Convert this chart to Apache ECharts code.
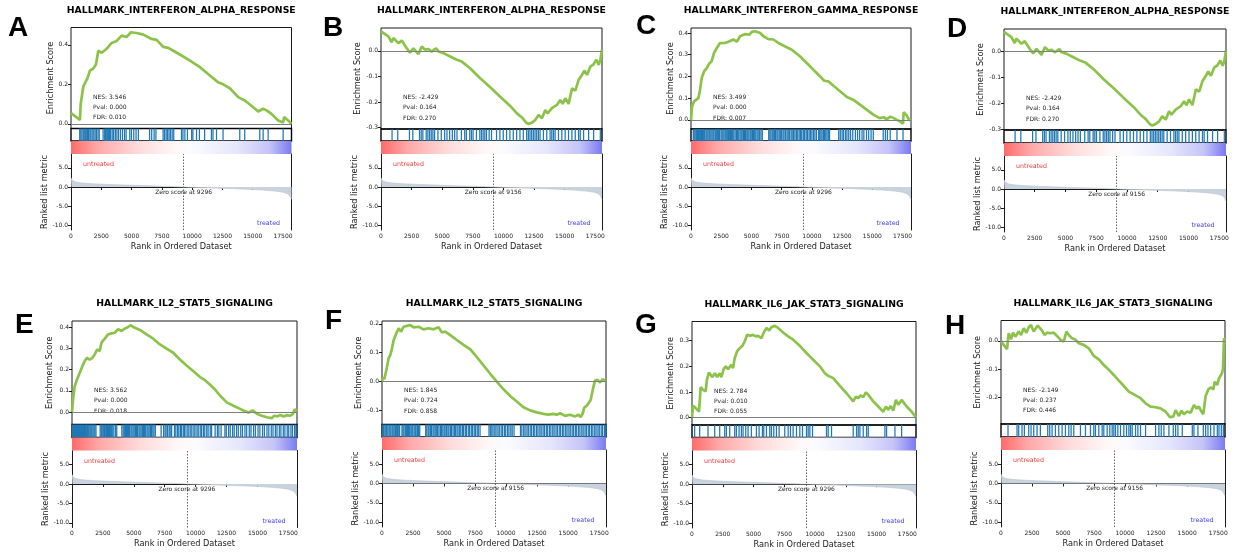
<!DOCTYPE html>
<html>
<head>
<meta charset="utf-8">
<script src="https://cdn.jsdelivr.net/npm/echarts@6/dist/echarts.min.js"></script>
<style>
  html, body { margin: 0; padding: 0; background: #ffffff; }
  #chart { width: 1237px; height: 552px; }
</style>
</head>
<body>
<div id="chart"></div>
<script>
// ---------- gene set titles ----------
const titleIfnAlpha = 'HALLMARK_INTERFERON_ALPHA_RESPONSE';
const titleIfnGamma = 'HALLMARK_INTERFERON_GAMMA_RESPONSE';
const titleIl2 = 'HALLMARK_IL2_STAT5_SIGNALING';
const titleIl6 = 'HALLMARK_IL6_JAK_STAT3_SIGNALING';

// ---------- statistics [NES, Pval, FDR] ----------
const statsA = ['3.546', '0.000', '0.010'];
const statsB = ['-2.429', '0.164', '0.270'];
const statsC = ['3.499', '0.000', '0.007'];
const statsE = ['3.562', '0.000', '0.018'];
const statsF = ['1.845', '0.724', '0.858'];
const statsG = ['2.784', '0.010', '0.055'];
const statsH = ['-2.149', '0.237', '0.446'];

// ---------- running enrichment score [rank, ES] ----------
const esA = [[0,0.054],[740,0.02],[800,0.1],[1020,0.19],[1350,0.23],[1570,0.27],[1840,0.28],[2060,0.30],[2250,0.37],[2530,0.36],[2940,0.38],[3350,0.41],[3770,0.42],[4180,0.447],[4590,0.44],[4950,0.464],[5415,0.46],[5965,0.452],[6650,0.43],[7065,0.425],[7615,0.39],[8030,0.385],[8440,0.37],[9125,0.346],[9815,0.32],[10640,0.287],[11460,0.245],[12150,0.21],[12560,0.2],[13110,0.18],[13800,0.135],[14350,0.118],[15040,0.084],[15450,0.062],[15860,0.076],[16140,0.068],[16550,0.05],[17100,0.017],[17510,0.007],[17590,0.034],[17920,0.017],[18200,0]];
const esB = [[0,0.076],[600,0.056],[870,0.033],[1010,0.05],[1420,0.03],[1690,0.04],[2100,0.01],[2370,-0.007],[2645,0.01],[3050,-0.013],[3330,0.017],[3600,0.004],[3870,0.007],[4150,-0.003],[4500,0.01],[4690,-0.003],[5100,-0.009],[5645,-0.022],[6190,-0.035],[6600,-0.042],[7280,-0.068],[8100,-0.107],[8920,-0.142],[9735,-0.179],[10550,-0.215],[11100,-0.244],[11510,-0.26],[11860,-0.28],[12050,-0.286],[12330,-0.28],[12600,-0.27],[12870,-0.25],[13145,-0.263],[13420,-0.231],[13610,-0.244],[13960,-0.224],[14370,-0.211],[14640,-0.192],[14835,-0.207],[15050,-0.185],[15325,-0.207],[15600,-0.146],[15870,-0.155],[16145,-0.113],[16415,-0.094],[16610,-0.077],[16830,-0.094],[17100,-0.061],[17320,-0.055],[17590,-0.035],[17780,-0.055],[17920,-0.035],[18050,0.004]];
const esC = [[0,-0.003],[80,0.06],[250,0.085],[415,0.092],[610,0.1],[745,0.138],[885,0.192],[1080,0.223],[1300,0.238],[1520,0.26],[1710,0.27],[1905,0.308],[2125,0.33],[2400,0.354],[2820,0.354],[3090,0.36],[3510,0.37],[3785,0.36],[4060,0.385],[4475,0.395],[4835,0.392],[5030,0.405],[5300,0.408],[5720,0.4],[5995,0.385],[6410,0.372],[6820,0.37],[7235,0.354],[7790,0.338],[8340,0.323],[9030,0.292],[9720,0.254],[10140,0.23],[10690,0.2],[11020,0.18],[11380,0.177],[11790,0.157],[12350,0.131],[12900,0.105],[13450,0.092],[14000,0.069],[14555,0.046],[15110,0.023],[15600,0.008],[15940,0.012],[16210,0.003],[16490,0.015],[16770,0.008],[17040,0],[17320,-0.008],[17540,-0.018],[17590,0.035],[17810,0.023],[18010,0.003],[18200,-0.003]];
const esE = [[0,0],[80,0.058],[215,0.121],[405,0.153],[620,0.184],[840,0.216],[1030,0.24],[1220,0.255],[1430,0.247],[1650,0.255],[1840,0.271],[2030,0.294],[2240,0.287],[2380,0.326],[2650,0.345],[2920,0.365],[3190,0.37],[3460,0.373],[3730,0.39],[4000,0.381],[4270,0.392],[4540,0.4],[4730,0.408],[4950,0.4],[5490,0.386],[6030,0.365],[6570,0.345],[7110,0.318],[7650,0.298],[8190,0.279],[8730,0.247],[9270,0.219],[9815,0.192],[10360,0.165],[10760,0.15],[11170,0.129],[11570,0.106],[11980,0.077],[12520,0.046],[13060,0.03],[13470,0.019],[13870,0.008],[14280,-0.002],[14630,0.008],[14950,-0.008],[15360,-0.017],[15760,-0.024],[16170,-0.028],[16360,-0.017],[16630,-0.02],[16850,-0.013],[17120,-0.02],[17390,-0.014],[17660,-0.017],[17870,-0.008],[18010,0.014],[18200,0.003]];
const esF = [[0,0],[80,0.015],[190,0.008],[350,0.04],[535,0.081],[670,0.092],[805,0.115],[940,0.144],[1150,0.167],[1340,0.185],[1530,0.173],[1740,0.19],[2010,0.193],[2280,0.196],[2550,0.188],[2950,0.19],[3350,0.181],[3755,0.185],[4160,0.181],[4560,0.188],[4830,0.17],[5100,0.173],[5500,0.161],[6030,0.144],[6570,0.127],[7110,0.112],[7510,0.092],[8050,0.063],[8720,0.027],[9250,0],[9790,-0.027],[10330,-0.05],[10860,-0.069],[11400,-0.089],[11930,-0.1],[12470,-0.107],[13010,-0.112],[13410,-0.115],[13810,-0.112],[14080,-0.115],[14350,-0.11],[14750,-0.119],[15150,-0.115],[15560,-0.121],[15820,-0.115],[16010,-0.123],[16170,-0.112],[16280,-0.092],[16550,-0.081],[16820,-0.063],[16980,-0.029],[17160,0.003],[17350,0.006],[17570,-0.003],[17780,0.008],[18050,0]];
const esG = [[0,0],[80,0.046],[245,0.04],[405,0.033],[570,0.023],[705,0.119],[895,0.108],[1110,0.102],[1220,0.15],[1380,0.176],[1655,0.158],[1870,0.173],[2035,0.158],[2250,0.173],[2385,0.158],[2575,0.189],[2740,0.2],[2930,0.189],[3200,0.206],[3335,0.193],[3470,0.232],[3660,0.258],[3880,0.271],[4095,0.28],[4285,0.297],[4475,0.323],[4745,0.319],[4960,0.323],[5180,0.317],[5370,0.319],[5640,0.31],[5830,0.332],[6050,0.35],[6265,0.34],[6455,0.353],[6725,0.358],[6995,0.35],[7400,0.332],[7810,0.317],[8220,0.304],[8760,0.28],[9300,0.252],[9845,0.226],[10390,0.2],[10795,0.173],[11065,0.163],[11470,0.154],[12015,0.124],[12555,0.095],[13100,0.063],[13315,0.082],[13505,0.076],[13695,0.087],[13910,0.08],[14130,0.098],[14320,0.089],[14725,0.063],[15130,0.043],[15540,0.023],[15755,0.043],[15950,0.03],[16135,0.046],[16350,0.027],[16570,0.069],[16760,0.05],[17030,0.069],[17440,0.043],[17845,0.023],[18200,0]];
const esH = [[0,0],[215,-0.014],[485,-0.029],[620,0.027],[810,0.006],[970,0.029],[1155,0.015],[1425,0.033],[1615,0.021],[1830,0.045],[2045,0.029],[2230,0.048],[2420,0.056],[2635,0.033],[2960,0.054],[3310,0.036],[3500,0.021],[3710,0.029],[3980,0.027],[4250,0.029],[4575,0.015],[4790,0.004],[5060,-0.002],[5270,0.033],[5460,0.021],[5730,0.009],[6000,0.004],[6270,-0.008],[6670,-0.014],[7075,-0.026],[7480,-0.053],[7880,-0.065],[8285,-0.085],[8690,-0.102],[9090,-0.12],[9495,-0.14],[9900,-0.159],[10300,-0.179],[10570,-0.185],[10920,-0.194],[11245,-0.202],[11650,-0.22],[12050,-0.232],[12455,-0.234],[12860,-0.238],[13260,-0.249],[13610,-0.269],[13880,-0.267],[14070,-0.244],[14340,-0.265],[14525,-0.246],[14740,-0.258],[15010,-0.249],[15280,-0.253],[15550,-0.226],[15760,-0.238],[15950,-0.232],[16140,-0.249],[16300,-0.258],[16490,-0.194],[16705,-0.171],[16890,-0.164],[17110,-0.171],[17220,-0.144],[17430,-0.155],[17565,-0.132],[17700,-0.138],[17810,-0.114],[17890,-0.096],[17970,0.009],[18050,0.001]];

// ---------- gene-set member positions in the ranked list ----------
const hitsA = [720,810,905,1010,1090,1180,1260,1370,1450,1560,1640,1750,1880,1990,2100,2230,2330,2650,2780,2860,2950,3030,3110,3190,3270,3400,3520,3660,3790,3920,4080,4250,4420,4550,4850,4990,5180,5370,5560,6490,6660,6860,7010,7600,7720,7850,7960,8090,8210,8350,8480,9120,9240,9400,9610,9960,10060,10360,10600,11030,11590,11720,12010,12550,13930,14340,15580,15860,16270,17510];
const hitsB = [903,1368,2325,2598,3145,3282,3419,3692,3829,3966,4103,4239,4376,4650,4923,5197,5388,5607,5826,6017,6208,6564,6838,6974,7248,7385,7521,7795,8068,8205,8342,8479,8615,8834,9026,9436,9709,9983,10256,10530,10803,11077,11350,11624,11897,12034,12171,12307,12444,12581,12718,12855,12991,13265,13538,13812,13949,14085,14222,14496,14769,15043,15316,15590,15863,16137,16273,16547,16957,17367,17914];
const hitsC = [190,260,350,470,540,610,720,790,880,960,1050,1130,1240,1310,1400,1490,1560,1650,1740,1830,1900,2010,2090,2180,2260,2350,2480,2560,2640,2730,2830,2910,3000,3090,3170,3270,3360,3450,3540,3650,3760,3860,3950,4060,4150,4230,4340,4420,4510,4620,4700,4790,4900,4980,5090,5170,5270,5360,5470,5560,5680,5790,5900,6430,6520,6610,6720,6800,6900,7000,7110,7190,7300,7420,7500,7620,7700,7830,7950,8040,8150,8280,8370,8490,8600,8720,8830,8950,9070,9160,9290,9400,9530,9640,9770,9880,10000,10130,10250,10380,10560,10650,10750,10840,10950,11040,11150,11250,11360,11460,12220,12350,12500,12620,12780,12900,13050,13200,13380,13600,13780,13950,14150,14300,14520,14700,14900,15080,15900,16080,16250,16480,17040,17540];
const hitsE = [40,120,210,290,360,450,530,610,700,770,860,940,1010,1100,1190,1260,1350,1440,1520,1600,1690,1780,1850,1940,2280,2370,2440,2530,2620,2690,2790,2880,2950,3040,3130,3210,3300,3390,3530,3620,4030,4140,4230,4320,4400,4490,4580,4660,4770,4850,4940,5030,5140,5220,5310,5420,5500,5590,5690,5780,5870,5960,6070,6150,6240,6350,6430,6540,6630,6740,7210,7410,7530,7610,7730,7860,7940,8060,8290,8400,8540,8640,8770,8860,9000,9090,9220,9370,9460,9610,9700,9860,9950,10110,10210,10370,10480,10630,10740,10900,11010,11180,11290,11580,11760,11880,12060,12370,12480,12670,12800,12990,13120,13310,13450,13650,13790,13990,14130,14340,14480,14690,14840,15050,15200,15410,15560,15770,15920,16120,16260,16450,16580,16770,16900,17090,17220,17410,17530,17710,17830,18000,18110];
const hitsF = [60,130,230,310,380,470,570,640,720,820,890,980,1080,1150,1240,1350,1420,1610,1690,1770,1880,1960,2050,2140,2230,2330,2410,2480,2590,2680,2750,2860,2950,3040,3520,3610,3720,3790,3900,3990,4110,4190,4290,4410,4480,4590,4710,4790,4900,5010,5080,5190,5310,5390,5510,5590,5720,5830,5910,6040,6130,6260,6350,6480,6570,6710,6800,6950,7050,7190,7290,7430,7530,7670,7760,7900,8620,8730,8850,8950,9090,9190,9340,9450,9600,9710,9860,9970,10120,10230,10380,10490,10640,11160,11270,11420,11530,11680,11790,11940,12050,12200,12310,12460,12570,12720,12830,12980,13090,13240,13350,13500,13610,13760,13870,14020,14130,14280,14390,14540,14650,14800,14910,15060,15170,15320,15430,15580,15690,15840,15950,16100,16210,16360,16470,16620,16730,16880,16990,17140,17250,17400,17510,17660,17770,17920,18010];
const hitsG = [217,624,1302,1844,2251,2658,2793,3065,3471,3607,3824,4014,4149,4366,4556,4827,5234,5451,5722,5830,6048,6319,6455,6644,6861,7078,7539,7811,8000,8217,8489,8760,8977,9302,9438,9574,9790,10929,11065,11336,13099,13370,13505,13641,13912,14183,14319,15675,15811,16489,17031];
const hitsH = [565,1291,1426,1695,1883,2233,2421,2636,2905,3174,3766,3927,4116,4385,4654,4923,5192,5461,5649,5864,6402,6806,7209,7478,7613,7882,8151,8285,8554,8769,8958,9092,9227,9415,9630,9899,10114,10303,10437,10572,10841,11029,11244,11648,12455,12724,12912,13127,13531,13880,14069,14257,14607,15414,15548,15871,16301,16490,16678,16893,17162,17431,17565,17753,17915];

// ---------- ranked list metric [rank, metric] ----------
const metric9296 = [[0,2.4],[40,2.0],[150,1.6],[400,1.3],[900,1.05],[1800,0.85],[3000,0.68],[4500,0.52],[6000,0.37],[7500,0.21],[8500,0.1],[9296,0],[10200,-0.1],[11500,-0.24],[13000,-0.4],[14500,-0.58],[15800,-0.8],[16800,-1.05],[17500,-1.35],[17900,-1.8],[18100,-2.5],[18200,-3.2]];
const metric9156 = [[0,2.4],[40,2.0],[150,1.6],[400,1.3],[900,1.05],[1800,0.85],[3000,0.68],[4500,0.5],[6000,0.35],[7400,0.2],[8400,0.09],[9156,0],[10100,-0.1],[11400,-0.24],[12900,-0.4],[14400,-0.58],[15700,-0.8],[16700,-1.05],[17400,-1.35],[17800,-1.8],[17950,-2.5],[18050,-3.2]];

// ---------- axis ticks ----------
const rankTicks = [0, 2500, 5000, 7500, 10000, 12500, 15000, 17500];
const metricTicks = [-10, -5, 0, 5];

// ---------- panel definitions ----------
// box: [left, right, top, ES bottom, hit strip bottom, colour bar bottom, metric bottom]
const panels = [
  { letter: 'A', letterPos: [8, 28],   title: titleIfnAlpha, es: esA, hits: hitsA, metric: metric9296, zero: 9296, n: 18200, esRange: [-0.024, 0.488], esTicks: [0, 0.2, 0.4], stats: statsA, esGap: 15, box: [71, 291.5, 27.5, 128.5, 141, 154, 230] },
  { letter: 'B', letterPos: [323, 28], title: titleIfnAlpha, es: esB, hits: hitsB, metric: metric9156, zero: 9156, n: 18050, esRange: [-0.305, 0.089], esTicks: [-0.3, -0.2, -0.1, 0], stats: statsB, esGap: 19, box: [381, 602, 28, 129, 141, 154, 230] },
  { letter: 'C', letterPos: [636, 26], title: titleIfnGamma, es: esC, hits: hitsC, metric: metric9296, zero: 9296, n: 18200, esRange: [-0.042, 0.423], esTicks: [0, 0.1, 0.2, 0.3, 0.4], stats: statsC, esGap: 16, box: [691, 911, 28, 129, 141, 154, 230] },
  { letter: 'D', letterPos: [947, 29], title: titleIfnAlpha, es: esB, hits: hitsB, metric: metric9156, zero: 9156, n: 18050, esRange: [-0.303, 0.087], esTicks: [-0.3, -0.2, -0.1, 0], stats: statsB, esGap: 19, box: [1004, 1226, 29, 130, 143, 156, 232] },
  { letter: 'E', letterPos: [15, 325], title: titleIl2, es: esE, hits: hitsE, metric: metric9296, zero: 9296, n: 18200, esRange: [-0.058, 0.428], esTicks: [0, 0.1, 0.2, 0.3, 0.4], stats: statsE, esGap: 18, box: [72, 297, 321, 424.5, 437.5, 450.5, 527.5] },
  { letter: 'F', letterPos: [325, 321], title: titleIl2, es: esF, hits: hitsF, metric: metric9156, zero: 9156, n: 18050, esRange: [-0.149, 0.21], esTicks: [-0.1, 0, 0.1, 0.2], stats: statsF, esGap: 19.5, box: [382, 606, 321, 424.5, 437, 450, 527] },
  { letter: 'G', letterPos: [635, 325], title: titleIl6, es: esG, hits: hitsG, metric: metric9296, zero: 9296, n: 18200, esRange: [-0.029, 0.375], esTicks: [0, 0.1, 0.2, 0.3], stats: statsG, esGap: 17, box: [692, 916, 321.5, 425, 437.5, 450.5, 528] },
  { letter: 'H', letterPos: [945, 326], title: titleIl6, es: esH, hits: hitsH, metric: metric9156, zero: 9156, n: 18050, esRange: [-0.293, 0.072], esTicks: [-0.2, -0.1, 0], stats: statsH, esGap: 19, box: [1001, 1225, 320.5, 424, 437, 450, 527] }
];

// ---------- styling ----------
const FONT = 'DejaVu Sans';
const INK = '#1a1a1a';
const ES_GREEN = '#8bc34a';
const HIT_BLUE = '#1f77b4';
const METRIC_FILL = '#c9d3dd';
const colourBarStops = [
  { offset: 0, color: '#ff6a6a' },
  { offset: 0.12, color: '#ffa8a8' },
  { offset: 0.3, color: '#ffdada' },
  { offset: 0.48, color: '#fff8f8' },
  { offset: 0.55, color: '#fbfbff' },
  { offset: 0.75, color: '#e6e6fc' },
  { offset: 0.9, color: '#c4c4f8' },
  { offset: 1, color: '#7a7af2' }
];

function drawHit(params, api) {
  const cs = params.coordSys;
  const x = api.coord([api.value(0), 0])[0];
  return {
    type: 'line',
    shape: { x1: x, y1: cs.y, x2: x, y2: cs.y + cs.height },
    style: { stroke: HIT_BLUE, lineWidth: 1.25, opacity: 1 }
  };
}

function drawColourBar(params, api) {
  const cs = params.coordSys;
  const x0 = api.coord([api.value(0), 0])[0];
  const x1 = api.coord([api.value(1), 0])[0];
  return {
    type: 'rect',
    shape: { x: x0, y: cs.y, width: x1 - x0, height: cs.height },
    style: { fill: new echarts.graphic.LinearGradient(0, 0, 1, 0, colourBarStops) }
  };
}

const grid = [], xAxis = [], yAxis = [], series = [], graphic = [];
const tickLabel = { fontSize: 6, color: INK, fontFamily: FONT };
const fmt1 = v => (Math.abs(v) < 1e-9 ? 0 : v).toFixed(1);
const fmtRank = v => String(Math.round(v));

panels.forEach(p => {
  const [L, R, T, esB, stB, cbB, mB] = p.box;
  const W = R - L;
  const g = grid.length;
  const y = yAxis.length;

  grid.push({ left: L, top: T, width: W, height: esB - T, show: true, borderColor: INK, borderWidth: 1 });
  grid.push({ left: L, top: esB, width: W, height: stB - esB, show: true, borderColor: '#000', borderWidth: 1.4 });
  grid.push({ left: L, top: stB, width: W, height: cbB - stB });
  grid.push({ left: L, top: cbB, width: W, height: mB - cbB });

  for (let k = 0; k < 3; k++) {
    xAxis.push({ type: 'value', gridIndex: g + k, min: 0, max: p.n, show: false });
  }
  xAxis.push({
    type: 'value', gridIndex: g + 3, min: 0, max: p.n,
    axisLine: { show: true, lineStyle: { color: INK, width: 1 } },
    axisTick: { show: true, length: 3, customValues: rankTicks, lineStyle: { color: INK } },
    axisLabel: Object.assign({ margin: 3, customValues: rankTicks, formatter: fmtRank }, tickLabel),
    splitLine: { show: false },
    name: 'Rank in Ordered Dataset', nameLocation: 'middle', nameGap: 12.5,
    nameTextStyle: { fontSize: 8.2, color: INK, fontFamily: FONT }
  });

  // ES axis
  yAxis.push({
    type: 'value', gridIndex: g, min: p.esRange[0], max: p.esRange[1],
    axisLine: { show: false },
    axisTick: { show: true, length: 3, customValues: p.esTicks, lineStyle: { color: INK } },
    axisLabel: Object.assign({ margin: 3, customValues: p.esTicks, formatter: fmt1 }, tickLabel),
    splitLine: { show: false },
    name: 'Enrichment Score', nameLocation: 'middle', nameGap: p.esGap, nameRotate: 90,
    nameTextStyle: { fontSize: 8.2, color: INK, fontFamily: FONT }
  });
  yAxis.push({ type: 'value', gridIndex: g + 1, min: 0, max: 1, show: false });
  yAxis.push({ type: 'value', gridIndex: g + 2, min: 0, max: 1, show: false });
  yAxis.push({
    type: 'value', gridIndex: g + 3, min: -11.2, max: 8.6,
    axisLine: { show: true, lineStyle: { color: INK, width: 1 } },
    axisTick: { show: true, length: 3, customValues: metricTicks, lineStyle: { color: INK } },
    axisLabel: Object.assign({ margin: 3, customValues: metricTicks, formatter: fmt1 }, tickLabel),
    splitLine: { show: false },
    name: 'Ranked list metric', nameLocation: 'middle', nameGap: 22, nameRotate: 90,
    nameTextStyle: { fontSize: 8.2, color: INK, fontFamily: FONT }
  });
  yAxis.push({
    type: 'value', gridIndex: g + 3, position: 'right', min: -11.2, max: 8.6,
    axisLine: { show: true, lineStyle: { color: INK, width: 1 } },
    axisTick: { show: false }, axisLabel: { show: false }, splitLine: { show: false }
  });

  // running enrichment score
  series.push({
    type: 'line', xAxisIndex: g, yAxisIndex: y, data: p.es,
    showSymbol: false, silent: true, z: 4,
    lineStyle: { color: ES_GREEN, width: 2.7 },
    markLine: {
      silent: true, symbol: ['none', 'none'], label: { show: false },
      lineStyle: { color: '#7f7f7f', width: 1.1, type: 'solid' },
      data: [{ yAxis: 0 }]
    }
  });
  // hit strip
  series.push({
    type: 'custom', xAxisIndex: g + 1, yAxisIndex: y + 1, silent: true,
    data: p.hits.map(r => [r, 0.5]), encode: { x: 0, y: 1 },
    renderItem: drawHit
  });
  // colour bar
  series.push({
    type: 'custom', xAxisIndex: g + 2, yAxisIndex: y + 2, silent: true,
    data: [[0, p.n]], encode: { x: [0, 1] },
    renderItem: drawColourBar
  });
  // ranked list metric
  series.push({
    type: 'line', xAxisIndex: g + 3, yAxisIndex: y + 3, data: p.metric,
    showSymbol: false, silent: true,
    lineStyle: { color: '#b9c5d0', width: 0.6 },
    areaStyle: { color: METRIC_FILL, opacity: 1 },
    markLine: {
      silent: true, symbol: ['none', 'none'], label: { show: false },
      lineStyle: { color: '#666', width: 1, type: [1.5, 1.5] },
      data: [{ xAxis: p.zero }]
    },
    markPoint: {
      silent: true, symbol: 'circle', symbolSize: 1,
      itemStyle: { color: 'rgba(0,0,0,0)' },
      label: { show: true, position: 'inside', formatter: 'Zero score at ' + p.zero, fontSize: 6, color: INK, fontFamily: FONT },
      data: [{ coord: [p.zero, -1.35] }]
    }
  });

  // texts
  graphic.push({
    type: 'text', x: (L + R) / 2, y: T - 17,
    style: { text: p.title, font: 'bold 9.3px "DejaVu Sans"', fill: '#000', align: 'center', verticalAlign: 'middle', textAlign: 'center', textVerticalAlign: 'middle' }
  });
  graphic.push({
    type: 'text', x: p.letterPos[0], y: p.letterPos[1],
    style: { text: p.letter, font: 'bold 28px "Liberation Sans"', fill: '#000', align: 'left', verticalAlign: 'middle', textAlign: 'left', textVerticalAlign: 'middle' }
  });
  ['NES: ', 'Pval: ', 'FDR: '].forEach((lab, k) => {
    graphic.push({
      type: 'text', x: L + 22, y: T + 69.5 + k * 10.3,
      style: { text: lab + p.stats[k], font: '6px "DejaVu Sans"', fill: INK, align: 'left', verticalAlign: 'middle', textAlign: 'left', textVerticalAlign: 'middle' }
    });
  });
  graphic.push({
    type: 'text', x: L + 12, y: cbB + 10.5,
    style: { text: 'untreated', font: '6.3px "DejaVu Sans"', fill: '#f03c3c', align: 'left', verticalAlign: 'middle', textAlign: 'left', textVerticalAlign: 'middle' }
  });
  graphic.push({
    type: 'text', x: R - 11.5, y: mB - 6.5,
    style: { text: 'treated', font: '6.3px "DejaVu Sans"', fill: '#4040f0', align: 'right', verticalAlign: 'middle', textAlign: 'right', textVerticalAlign: 'middle' }
  });
});

const chart = echarts.init(document.getElementById('chart'), null, { renderer: 'canvas' });
chart.setOption({
  backgroundColor: '#ffffff',
  animation: false,
  grid, xAxis, yAxis, series, graphic
});
</script>
</body>
</html>
